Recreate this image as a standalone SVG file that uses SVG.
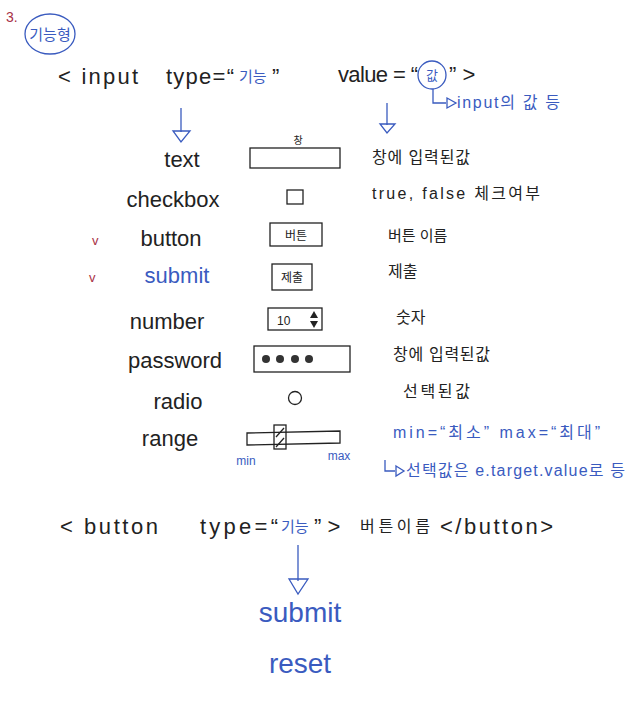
<svg xmlns="http://www.w3.org/2000/svg" width="637" height="704" viewBox="0 0 637 704">
<defs>
<style>
text{font-family:"Liberation Sans","Noto Sans CJK KR",sans-serif;fill:#222;}
.k{font-size:22px;}
.b{fill:#3a5bbf;}
.r{fill:#a83246;}
.ko{font-size:16px;}
.line{stroke:#222;stroke-width:1.3;fill:none;}
.bl{stroke:#3a5bbf;stroke-width:1.3;fill:none;}
.m{text-anchor:middle;}
</style>
</defs>
<rect width="637" height="704" fill="#fff"/>

<g id="title">
<text x="6" y="22" class="r" font-size="14">3.</text>
<ellipse cx="50" cy="34" rx="25" ry="20" class="bl"/>
<text x="50" y="40" class="b m" font-size="15">기능형</text>
</g>

<g id="input-syntax">
<text x="58" y="84" class="k" textLength="80" lengthAdjust="spacing">&lt; input</text>
<text x="166" y="84" class="k" textLength="68" lengthAdjust="spacing">type=“</text>
<text x="239" y="82" class="b" font-size="15">기능</text>
<text x="272" y="84" class="k">”</text>
<text x="338" y="82" class="k" textLength="80" lengthAdjust="spacing">value = “</text>
<circle cx="432" cy="75" r="14" class="bl"/>
<text x="432" y="80" class="b m" font-size="13">값</text>
<text x="449" y="82" class="k">”  &gt;</text>
</g>
<g id="value-note">
<path d="M433,89 V103 H446" class="bl"/>
<path d="M447,98 L456,103 L447,108 Z" class="bl"/>
<text x="457" y="108" class="b" font-size="16" textLength="103" lengthAdjust="spacing">input의 값 등</text>
</g>

<g id="row-text">
<text x="182" y="167" class="k m">text</text>
<text x="298" y="144" class="m" font-size="10">창</text>
<rect x="250" y="148" width="90" height="20" class="line"/>
<text x="372" y="163" class="ko" textLength="98" lengthAdjust="spacing">창에 입력된값</text>
</g>
<g id="row-checkbox">
<text x="173" y="207" class="k m">checkbox</text>
<rect x="287" y="190" width="16" height="14" class="line"/>
<text x="372" y="199" class="ko" textLength="168" lengthAdjust="spacing">true, false 체크여부</text>
</g>
<g id="row-button">
<text x="92" y="245" class="r" font-size="13">v</text>
<text x="171" y="246" class="k m">button</text>
<rect x="270" y="223" width="52" height="23" class="line"/>
<text x="296" y="240" class="m" font-size="12">버튼</text>
<text x="388" y="241" font-size="15">버튼 이름</text>
</g>
<g id="row-submit">
<text x="89" y="282" class="r" font-size="13">v</text>
<text x="177" y="283" class="k m b">submit</text>
<rect x="272" y="264" width="40" height="26" class="line"/>
<text x="292" y="282" class="m" font-size="12">제출</text>
<text x="388" y="277" class="ko">제출</text>
</g>
<g id="row-number">
<text x="167" y="329" class="k m">number</text>
<rect x="268" y="308" width="54" height="22" class="line"/>
<text x="277" y="325" font-size="12">10</text>
<path d="M310,318 L314,311 L318,318 Z" fill="#222"/>
<path d="M310,321 L318,321 L314,328 Z" fill="#222"/>
<text x="396" y="323" class="ko">숫자</text>
</g>
<g id="row-password">
<text x="175" y="368" class="k m">password</text>
<rect x="254" y="346" width="96" height="26" class="line"/>
<circle cx="266" cy="359" r="4" fill="#333"/>
<circle cx="280" cy="359" r="4" fill="#333"/>
<circle cx="295" cy="359" r="4" fill="#333"/>
<circle cx="309" cy="359" r="4" fill="#333"/>
<text x="393" y="360" class="ko" textLength="97" lengthAdjust="spacing">창에 입력된값</text>
</g>
<g id="row-radio">
<text x="178" y="409" class="k m">radio</text>
<circle cx="295" cy="398" r="6.5" class="line"/>
<text x="403" y="397" class="ko" textLength="67" lengthAdjust="spacing">선택된값</text>
</g>
<g id="row-range">
<text x="170" y="446" class="k m">range</text>
<path d="M247,433 L340,431 L340,443 L247,445 Z" class="line"/>
<rect x="274" y="425" width="12" height="24" class="line"/>
<path d="M276,437 L284,428 M276,447 L284,438" class="line" stroke-width="1"/>
<text x="246" y="465" class="b m" font-size="12">min</text>
<text x="339" y="460" class="b m" font-size="12">max</text>
<text x="393" y="438" class="b" font-size="16" textLength="207" lengthAdjust="spacing">min=“최소”   max=“최대”</text>
<path d="M385,460 V471 H395" class="bl"/>
<path d="M396,466 L404,471 L396,476 Z" class="bl"/>
<text x="406" y="476" class="b" font-size="16" textLength="219" lengthAdjust="spacing">선택값은 e.target.value로 등</text>
</g>

<g id="button-syntax">
<text x="60" y="534" class="k" textLength="98" lengthAdjust="spacing">&lt; button</text>
<text x="200" y="534" class="k" textLength="78" lengthAdjust="spacing">type=“</text>
<text x="281" y="532" class="b" font-size="15">기능</text>
<text x="314" y="534" class="k">”  &gt;</text>
<text x="360" y="532" font-size="16" textLength="70" lengthAdjust="spacing">버튼이름</text>
<text x="440" y="534" class="k" textLength="113" lengthAdjust="spacing">&lt;/button&gt;</text>
</g>

<g id="button-types">
<text x="300" y="622" class="b m" font-size="28">submit</text>
<text x="300" y="673" class="b m" font-size="28">reset</text>
</g>

<g id="connectors">
<path d="M181,108 V132" class="bl"/>
<path d="M173,131 L190,131 L181,142 Z" class="bl"/>
<path d="M387,103 V125" class="bl"/>
<path d="M380,124 L395,124 L387,133 Z" class="bl"/>
<path d="M298,545 V581" class="bl"/>
<path d="M289,579 L308,579 L298,594 Z" class="bl"/>
</g>
</svg>
